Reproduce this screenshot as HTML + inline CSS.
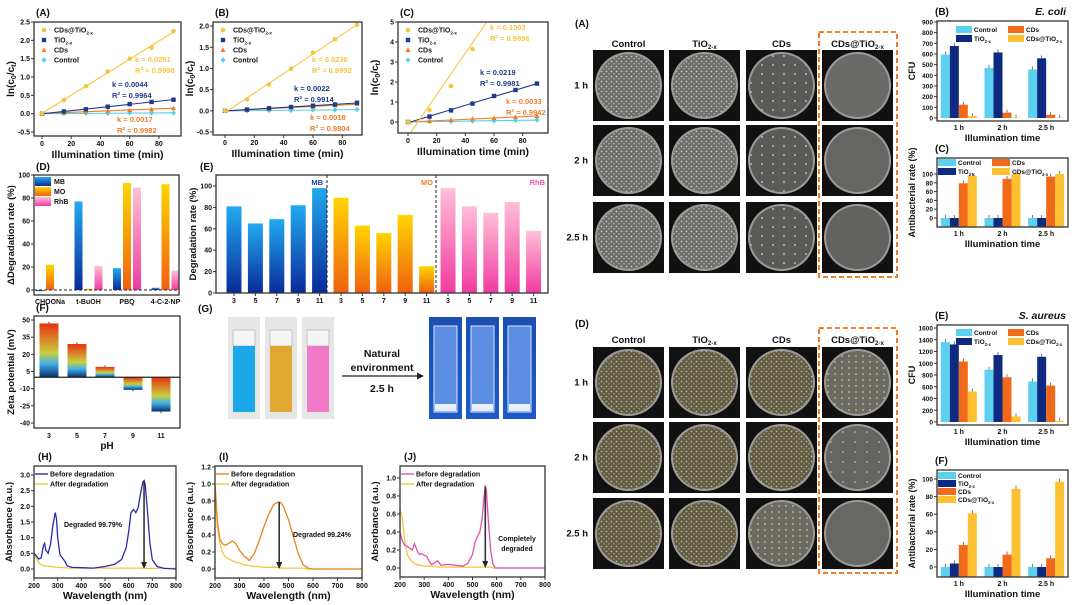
<!DOCTYPE html>
<html><head><meta charset="utf-8"><style>
html,body{margin:0;padding:0;background:#fff;}
svg{display:block;font-family:"Liberation Sans",Arial,sans-serif;}
</style></head><body>
<svg id="fig" width="1080" height="605" viewBox="0 0 1080 605" xmlns="http://www.w3.org/2000/svg">
<defs>
<linearGradient id="gMB" x1="0" y1="0" x2="0" y2="1"><stop offset="0" stop-color="#22aaf0"/><stop offset="1" stop-color="#0a2a9a"/></linearGradient>
<linearGradient id="gMO" x1="0" y1="0" x2="0" y2="1"><stop offset="0" stop-color="#ffd500"/><stop offset="1" stop-color="#f06010"/></linearGradient>
<linearGradient id="gRhB" x1="0" y1="0" x2="0" y2="1"><stop offset="0" stop-color="#ffc0d8"/><stop offset="1" stop-color="#f03aa0"/></linearGradient>
<linearGradient id="gZp" x1="0" y1="0" x2="0" y2="1"><stop offset="0" stop-color="#e83010"/><stop offset="0.55" stop-color="#c8d040"/><stop offset="0.75" stop-color="#40b0e8"/><stop offset="1" stop-color="#0a3070"/></linearGradient>
<linearGradient id="gBlueBg" x1="0" y1="0" x2="0" y2="1"><stop offset="0" stop-color="#1a4fb0"/><stop offset="1" stop-color="#1e5ac8"/></linearGradient>
<pattern id="dense" width="5" height="5" patternUnits="userSpaceOnUse"><rect width="5" height="5" fill="#6c6c68"/><circle cx="1.5" cy="1.5" r="0.9" fill="#c8c8c0"/><circle cx="4" cy="3.8" r="0.8" fill="#b8b8b0"/></pattern>
<pattern id="sparse" width="11" height="9" patternUnits="userSpaceOnUse"><rect width="11" height="9" fill="#5a5a58"/><circle cx="3" cy="2" r="0.9" fill="#d8d8d0"/></pattern>
<pattern id="denseY" width="5" height="5" patternUnits="userSpaceOnUse"><rect width="5" height="5" fill="#5e5a4c"/><circle cx="1.5" cy="1.5" r="0.9" fill="#c8b868"/><circle cx="4" cy="3.8" r="0.8" fill="#b0a060"/></pattern>
<pattern id="midY" width="7" height="6" patternUnits="userSpaceOnUse"><rect width="7" height="6" fill="#6a6a62"/><circle cx="2" cy="2" r="0.9" fill="#d8c878"/></pattern>
<pattern id="sparseY" width="12" height="10" patternUnits="userSpaceOnUse"><rect width="12" height="10" fill="#656562"/><circle cx="3" cy="2" r="0.8" fill="#d8d0a0"/></pattern>
</defs>
</svg>
<script>
// ---------- data ----------
const times = [0, 15, 30, 45, 60, 75, 90];
const kinSeriesNames = ['CDs@TiO2-x', 'TiO2-x', 'CDs', 'Control'];
const A_cdsTio2 = [0, 0.37, 0.75, 1.15, 1.5, 1.8, 2.25];
const A_tio2 = [0, 0.06, 0.12, 0.19, 0.26, 0.32, 0.38];
const A_cds = [0, 0.03, 0.06, 0.08, 0.1, 0.12, 0.15];
const A_ctrl = [0, 0.0, 0.01, 0.01, 0.02, 0.02, 0.02];
const B_cdsTio2 = [0, 0.27, 0.62, 0.99, 1.37, 1.69, 2.03];
const B_tio2 = [0, 0.03, 0.06, 0.09, 0.12, 0.15, 0.19];
const B_cds = [0, 0.02, 0.05, 0.08, 0.1, 0.13, 0.16];
const B_ctrl = [0, 0.0, 0.01, 0.01, 0.02, 0.02, 0.03];
const C_cdsTio2 = [0, 0.6, 1.8, 3.65, 5.6, 7.2, 8.9];
const C_tio2 = [0, 0.27, 0.58, 0.92, 1.3, 1.6, 1.92];
const C_cds = [0, 0.05, 0.1, 0.15, 0.2, 0.25, 0.3];
const C_ctrl = [0, 0.02, 0.03, 0.05, 0.06, 0.08, 0.1];
const D_cats = ['CHOONa', 't-BuOH', 'PBQ', '4-C-2-NP'];
const D_MB = [-1, 77, 19, 2];
const D_MO = [22, 1, 93, 92];
const D_RhB = [0, 21, 89, 17];
const E_ph = ['3', '5', '7', '9', '11'];
const E_MB = [81, 65, 69, 82, 98];
const E_MO = [89, 63, 56, 73, 25];
const E_RhB = [98, 81, 75, 85, 58];
const F_ph = ['3', '5', '7', '9', '11'];
const F_zeta = [47, 29, 9, -11, -30];
const H_wl = [200,210,220,230,240,245,250,260,270,280,290,295,300,310,320,330,340,360,400,450,500,540,570,590,600,610,620,630,640,650,660,665,670,680,690,700,720,750,800];
const H_before = [0.5,0.42,0.32,0.35,0.75,0.82,0.6,0.5,0.8,1.4,1.8,1.6,1.0,0.45,0.35,0.25,0.1,0.05,0.04,0.03,0.08,0.15,0.3,0.7,1.2,1.8,1.9,1.8,1.95,2.4,2.78,2.82,2.7,1.8,0.8,0.3,0.08,0.02,0.0];
const H_after = [0.47,0.35,0.2,0.14,0.11,0.1,0.1,0.09,0.08,0.07,0.06,0.06,0.05,0.05,0.04,0.04,0.03,0.03,0.03,0.03,0.03,0.03,0.03,0.03,0.03,0.03,0.03,0.03,0.03,0.03,0.03,0.03,0.03,0.02,0.02,0.02,0.02,0.02,0.02];
const I_wl = [200,205,210,220,230,240,255,270,285,300,320,340,360,380,400,420,440,460,470,480,500,520,540,560,580,600,800];
const I_before = [1.0,0.8,0.55,0.35,0.3,0.28,0.3,0.33,0.3,0.22,0.15,0.1,0.18,0.33,0.5,0.65,0.76,0.79,0.78,0.73,0.58,0.38,0.18,0.05,0.01,0.0,0.0];
const I_after = [0.95,0.7,0.5,0.3,0.2,0.15,0.12,0.1,0.08,0.07,0.05,0.04,0.03,0.03,0.02,0.02,0.02,0.02,0.01,0.01,0.01,0.01,0.01,0.01,0.0,0.0,0.0];
const J_wl = [200,210,220,230,240,250,260,270,280,290,300,310,320,330,340,355,370,400,430,460,480,500,510,520,530,540,548,553,558,565,575,585,595,800];
const J_before = [0.4,0.3,0.25,0.24,0.22,0.2,0.27,0.2,0.15,0.16,0.14,0.13,0.08,0.04,0.05,0.08,0.03,0.04,0.03,0.02,0.05,0.15,0.28,0.35,0.4,0.55,0.8,0.92,0.85,0.55,0.2,0.04,0.0,0.0];
const J_after = [0.65,0.55,0.3,0.15,0.1,0.07,0.05,0.04,0.03,0.03,0.02,0.02,0.02,0.02,0.02,0.01,0.01,0.01,0.01,0.01,0.01,0.01,0.01,0.01,0.01,0.01,0.01,0.01,0.01,0.01,0.01,0.0,0.0,0.0];
const times_h = ['1 h', '2 h', '2.5 h'];
const Bc_ctrl = [595, 470, 455], Bc_tio2 = [675, 615, 560], Bc_cds = [125, 50, 30], Bc_cdsT = [18, 3, 3];
const Cc_ctrl = [0, 0, 0], Cc_tio2 = [0, 0, 0], Cc_cds = [79, 89, 94], Cc_cdsT = [96, 100, 100];
const Ec_ctrl = [1360, 890, 690], Ec_tio2 = [1320, 1140, 1110], Ec_cds = [1030, 760, 620], Ec_cdsT = [520, 95, 20];
const Fc_ctrl = [0, 0, 0], Fc_tio2 = [4, 0, 0], Fc_cds = [25, 14, 10], Fc_cdsT = [61, 89, 97];

// ---------- helpers ----------
const NS = 'http://www.w3.org/2000/svg';
const svg = document.getElementById('fig');
function mk(tag, attrs, name, parent) {
  const el = document.createElementNS(NS, tag);
  for (const k in attrs) el.setAttribute(k, attrs[k]);
  
  
  (parent || svg).appendChild(el);
  return el;
}
function txt(x, y, s, opts, name, html) {
  const t = mk('text', Object.assign({x: x, y: y, 'font-size': 8, 'font-weight': 'bold', 'text-anchor': 'middle', fill: '#111'}, opts || {}), name);
  if (html) t.innerHTML = s; else t.textContent = s;
  return t;
}
const TIO = 'TiO<tspan font-size="0.65em" dy="2">2-x</tspan>';
const CDT = 'CDs@TiO<tspan font-size="0.65em" dy="2">2-x</tspan>';
function lin(d0, d1, r0, r1) { return v => r0 + (v - d0) * (r1 - r0) / (d1 - d0); }
function frame(x0, y0, x1, y1, name) { mk('rect', {x: x0, y: y0, width: x1 - x0, height: y1 - y0, fill: 'none', stroke: '#333', 'stroke-width': 1.3}, name); }
function yTicks(ys, vals, x0, name, fmt, fs) {
  vals.forEach(v => { const y = ys(v);
    mk('line', {x1: x0 - 3, x2: x0, y1: y, y2: y, stroke: '#333'}, name + '-tick');
    txt(x0 - 4, y + 2.5, fmt ? fmt(v) : String(v), {'text-anchor': 'end', 'font-size': fs || 7}, name + '-label'); });
}
function xTicks(xs, vals, yb, name, fs, labels) {
  vals.forEach((v, i) => { const x = xs(v);
    mk('line', {x1: x, x2: x, y1: yb, y2: yb + 3, stroke: '#333'}, name + '-tick');
    txt(x, yb + 10, labels ? labels[i] : String(v), {'font-size': fs || 7}, name + '-label'); });
}
function ytitle(x, y, s, name, html, fs) {
  const t = txt(x, y, s, {'font-size': fs || 9.5, transform: 'rotate(-90 ' + x + ' ' + y + ')'}, name, html); return t;
}
function fit(xv, yv) {
  const n = xv.length; let sx = 0, sy = 0, sxx = 0, sxy = 0;
  for (let i = 0; i < n; i++) { sx += xv[i]; sy += yv[i]; sxx += xv[i] * xv[i]; sxy += xv[i] * yv[i]; }
  const m = (n * sxy - sx * sy) / (n * sxx - sx * sx); return [m, (sy - m * sx) / n];
}
function marker(type, x, y, c, name, g) {
  if (type === 0) mk('circle', {cx: x, cy: y, r: 2.3, fill: c}, name, g);
  else if (type === 1) mk('rect', {x: x - 2.2, y: y - 2.2, width: 4.4, height: 4.4, fill: c}, name, g);
  else if (type === 2) mk('polygon', {points: (x) + ',' + (y - 2.6) + ' ' + (x + 2.5) + ',' + (y + 2) + ' ' + (x - 2.5) + ',' + (y + 2), fill: c}, name, g);
  else mk('polygon', {points: x + ',' + (y - 2.7) + ' ' + (x + 2.5) + ',' + y + ' ' + x + ',' + (y + 2.7) + ' ' + (x - 2.5) + ',' + y, fill: c}, name, g);
}
const kinColors = ['#f5c542', '#1e3a8a', '#f07c2a', '#4fd2e8'];

function kinPanel(p) {
  txt(p.x0 + 2, p.y0 - 6, p.label, {'font-size': 10, 'text-anchor': 'start'}, 'panel-label-' + p.id);
  const xs = lin(0, 90, p.xa, p.xb), ys = lin(p.ymin, p.ymax, p.ya, p.yb);
  const cid = 'clip' + p.id;
  const cp = mk('clipPath', {id: cid}, 'clip-' + p.id);
  mk('rect', {x: p.x0, y: p.y0, width: p.x1 - p.x0, height: p.y1 - p.y0}, 'clip-rect', cp);
  const g = mk('g', {'clip-path': 'url(#' + cid + ')'}, 'plot-area-' + p.id);
  [3, 2, 1, 0].forEach(si => {
    const data = p.series[si];
    const f = fit(times, data);
    mk('line', {x1: xs(0), y1: ys(f[1]), x2: xs(90), y2: ys(f[1] + f[0] * 90), stroke: kinColors[si], 'stroke-width': 1.1}, 'fit-line-' + si, g);
    data.forEach((v, i) => marker(si, xs(times[i]), ys(v), kinColors[si], 'point-' + si, g));
  });
  frame(p.x0, p.y0, p.x1, p.y1, 'frame-' + p.id);
  yTicks(ys, p.yt, p.x0, 'y-axis-' + p.id, p.fmt);
  xTicks(xs, [0, 20, 40, 60, 80], p.y1, 'x-axis-' + p.id);
  txt((p.x0 + p.x1) / 2, p.y1 + 22, 'Illumination time (min)', {'font-size': 10.5}, 'x-axis-title-' + p.id);
  ytitle(p.x0 - 20, (p.y0 + p.y1) / 2, 'ln(c<tspan font-size="0.7em" dy="2">0</tspan><tspan dy="-2">/c</tspan><tspan font-size="0.7em" dy="2">t</tspan><tspan dy="-2">)</tspan>', 'y-axis-title-' + p.id, true, 10);
  ['CDs@TiO2-x', 'TiO2-x', 'CDs', 'Control'].forEach((n, i) => {
    const y = p.y0 + 8 + i * 10;
    marker(i, p.x0 + 10, y, kinColors[i], 'legend-marker');
    txt(p.x0 + 20, y + 2.5, i === 0 ? CDT : i === 1 ? TIO : n, {'font-size': 7, 'text-anchor': 'start'}, 'legend-entry', true);
  });
  p.ann.forEach(a => {
    txt(a[0], a[1], 'k = ' + a[2], {'font-size': 7.5, fill: a[4], 'text-anchor': 'start'}, 'k-value');
    txt(a[0], a[1] + 11, 'R<tspan font-size="0.65em" dy="-3">2</tspan><tspan dy="3"> = ' + a[3] + '</tspan>', {'font-size': 7.5, fill: a[4], 'text-anchor': 'start'}, 'r2-value', true);
  });
}
const f1 = v => v.toFixed(1);
kinPanel({id: 'A', label: '(A)', x0: 34, y0: 22, x1: 181, y1: 136, xa: 42, xb: 173.5, ymin: -0.5, ymax: 2.5, ya: 132, yb: 22,
  yt: [-0.5, 0, 0.5, 1, 1.5, 2, 2.5], fmt: f1, series: [A_cdsTio2, A_tio2, A_cds, A_ctrl],
  ann: [[135, 62, '0.0251', '0.9998', '#f5c542'], [112, 87, '0.0044', '0.9964', '#1e3a8a'], [117, 122, '0.0017', '0.9982', '#f07c2a']]});
kinPanel({id: 'B', label: '(B)', x0: 213, y0: 22, x1: 362, y1: 135, xa: 225, xb: 357, ymin: -0.5, ymax: 2.2, ya: 132, yb: 17.6,
  yt: [-0.5, 0, 0.5, 1, 1.5, 2], fmt: f1, series: [B_cdsTio2, B_tio2, B_cds, B_ctrl],
  ann: [[312, 62, '0.0236', '0.9992', '#f5c542'], [294, 91, '0.0022', '0.9914', '#1e3a8a'], [310, 120, '0.0018', '0.9804', '#f07c2a']]});
kinPanel({id: 'C', label: '(C)', x0: 398, y0: 22, x1: 548, y1: 133, xa: 408, xb: 537, ymin: -0.55, ymax: 5, ya: 133, yb: 22,
  yt: [0, 1, 2, 3, 4, 5], fmt: v => String(v), series: [C_cdsTio2, C_tio2, C_cds, C_ctrl],
  ann: [[490, 30, '0.1003', '0.9896', '#f5c542'], [480, 75, '0.0219', '0.9981', '#1e3a8a'], [506, 104, '0.0033', '0.9942', '#f07c2a']]});

// ---------- D ----------
(function () {
  const x0 = 34, y0 = 175, x1 = 179, y1 = 295;
  txt(x0 + 2, y0 - 5, '(D)', {'font-size': 10, 'text-anchor': 'start'}, 'panel-label-D');
  const ys = lin(0, 100, 290, 175), bw = 8;
  const xc = i => x0 + 16 + i * 38.5;
  const sets = [[D_MB, 'url(#gMB)'], [D_MO, 'url(#gMO)'], [D_RhB, 'url(#gRhB)']];
  D_cats.forEach((c, i) => {
    sets.forEach((s, j) => {
      const v = s[0][i], x = xc(i) + (j - 1) * (bw + 2) - bw / 2;
      mk('rect', {x: x, y: Math.min(ys(v), ys(0)), width: bw, height: Math.abs(ys(v) - ys(0)), fill: s[1]}, 'bar-' + c);
    });
    txt(xc(i), y1 + 9, c, {'font-size': 7}, 'x-axis-label');
  });
  mk('line', {x1: x0, x2: x1, y1: ys(0), y2: ys(0), stroke: '#222', 'stroke-dasharray': '3,2'}, 'zero-line');
  frame(x0, y0, x1, y1, 'frame-D');
  yTicks(ys, [0, 20, 40, 60, 80, 100], x0, 'y-axis-D');
  ytitle(x0 - 20, (y0 + y1) / 2, 'ΔDegradation rate (%)', 'y-axis-title-D', false, 9.5);
  [['MB', 'url(#gMB)'], ['MO', 'url(#gMO)'], ['RhB', 'url(#gRhB)']].forEach((l, i) => {
    mk('rect', {x: x0 + 1, y: y0 + 2 + i * 10, width: 16, height: 9, fill: l[1]}, 'legend-swatch');
    txt(x0 + 20, y0 + 9 + i * 10, l[0], {'font-size': 7, 'text-anchor': 'start'}, 'legend-entry');
  });
})();

// ---------- E ----------
(function () {
  const x0 = 216, y0 = 175, x1 = 548, y1 = 293;
  txt(x0 - 16, y0 - 5, '(E)', {'font-size': 10, 'text-anchor': 'start'}, 'panel-label-E');
  const ys = lin(0, 100, 293, 186), bw = 15;
  const xc = i => 234 + i * 21.4;
  const sets = [[E_MB, 'url(#gMB)'], [E_MO, 'url(#gMO)'], [E_RhB, 'url(#gRhB)']];
  sets.forEach((s, j) => s[0].forEach((v, k) => {
    const i = j * 5 + k;
    mk('rect', {x: xc(i) - bw / 2, y: ys(v), width: bw, height: ys(0) - ys(v), fill: s[1]}, 'bar-ph' + E_ph[k]);
    mk('line', {x1: xc(i), x2: xc(i), y1: y1, y2: y1 + 3, stroke: '#333'}, 'x-tick');
    txt(xc(i), y1 + 10, E_ph[k], {'font-size': 7}, 'x-axis-label');
  }));
  [327, 436].forEach(x => mk('line', {x1: x, x2: x, y1: y0, y2: y1, stroke: '#222', 'stroke-dasharray': '3,2'}, 'divider-line'));
  txt(323, y0 + 10, 'MB', {'font-size': 7.5, fill: '#1e3aa0', 'text-anchor': 'end'}, 'group-label-MB');
  txt(433, y0 + 10, 'MO', {'font-size': 7.5, fill: '#f07c2a', 'text-anchor': 'end'}, 'group-label-MO');
  txt(545, y0 + 10, 'RhB', {'font-size': 7.5, fill: '#f050b0', 'text-anchor': 'end'}, 'group-label-RhB');
  frame(x0, y0, x1, y1, 'frame-E');
  yTicks(ys, [0, 20, 40, 60, 80, 100], x0, 'y-axis-E');
  ytitle(x0 - 20, (y0 + y1) / 2, 'Degradation rate (%)', 'y-axis-title-E', false, 9.5);
})();

// ---------- F ----------
(function () {
  const x0 = 34, y0 = 316, x1 = 180, y1 = 428;
  txt(x0 + 2, y0 - 5, '(F)', {'font-size': 10, 'text-anchor': 'start'}, 'panel-label-F');
  const ys = lin(-40, 50, 423, 320), bw = 19;
  const xc = i => 49 + i * 28;
  F_zeta.forEach((v, i) => {
    mk('rect', {x: xc(i) - bw / 2, y: Math.min(ys(v), ys(0)), width: bw, height: Math.abs(ys(v) - ys(0)), fill: 'url(#gZp)'}, 'bar-ph' + F_ph[i]);
    mk('line', {x1: xc(i), x2: xc(i), y1: ys(v) + (v > 0 ? -1.5 : 1.5), y2: ys(v), stroke: '#333'}, 'error-bar');
    txt(xc(i), y1 + 10, F_ph[i], {'font-size': 7}, 'x-axis-label');
  });
  mk('line', {x1: x0, x2: x1, y1: ys(0), y2: ys(0), stroke: '#222', 'stroke-width': 1.2}, 'zero-line');
  frame(x0, y0, x1, y1, 'frame-F');
  yTicks(ys, [-40, -25, -10, 5, 20, 35, 50], x0, 'y-axis-F');
  txt((x0 + x1) / 2, y1 + 21, 'pH', {'font-size': 10}, 'x-axis-title-F');
  ytitle(x0 - 20, (y0 + y1) / 2, 'Zeta potential (mV)', 'y-axis-title-F', false, 9.5);
})();

// ---------- G ----------
(function () {
  txt(198, 312, '(G)', {'font-size': 10, 'text-anchor': 'start'}, 'panel-label-G');
  [[228, '#1aa8e8'], [265, '#e0a830'], [302, '#f07ac8']].forEach((c, i) => {
    const x = c[0], w = 32;
    mk('rect', {x: x, y: 317, width: w, height: 102, fill: '#e6e6e4'}, 'dye-photo');
    mk('rect', {x: x + 5, y: 330, width: w - 10, height: 16, fill: '#f4f4f4', stroke: '#aaa', 'stroke-width': 0.6}, 'cuvette-top');
    mk('rect', {x: x + 5, y: 346, width: w - 10, height: 66, fill: c[1]}, 'cuvette-liquid');
  });
  mk('line', {x1: 342, y1: 376, x2: 420, y2: 376, stroke: '#222', 'stroke-width': 1.2}, 'arrow-line');
  mk('polygon', {points: '424,376 417,372.5 417,379.5', fill: '#222'}, 'arrow-head');
  txt(382, 357, 'Natural', {'font-size': 10.5}, 'arrow-label');
  txt(382, 371, 'environment', {'font-size': 10.5}, 'arrow-label');
  txt(382, 392, '2.5 h', {'font-size': 10.5}, 'arrow-label');
  [429, 466, 503].forEach(x => {
    mk('rect', {x: x, y: 317, width: 33, height: 102, fill: 'url(#gBlueBg)'}, 'clear-photo');
    mk('rect', {x: x + 5, y: 326, width: 23, height: 86, fill: '#5b8ee0', stroke: '#dbe6ff', 'stroke-width': 1}, 'clear-cuvette');
    mk('rect', {x: x + 6, y: 404, width: 21, height: 7, fill: '#e8eeff'}, 'cuvette-base');
  });
})();

// ---------- H, I, J ----------
function specPanel(p) {
  txt(p.x0 + 4, p.y0 - 6, p.label, {'font-size': 10, 'text-anchor': 'start'}, 'panel-label-' + p.id);
  const xs = lin(200, 800, p.x0, p.x1), ys = lin(0, p.ymax, p.y0r, p.yt1);
  const path = (wl, a) => wl.map((w, i) => (i ? 'L' : 'M') + xs(w).toFixed(1) + ',' + ys(a[i]).toFixed(1)).join(' ');
  mk('path', {d: path(p.wl, p.after), fill: 'none', stroke: '#f5c542', 'stroke-width': 1.3}, 'after-line-' + p.id);
  mk('path', {d: path(p.wl, p.before), fill: 'none', stroke: p.c, 'stroke-width': 1.3}, 'before-line-' + p.id);
  const ax = xs(p.arrowWl);
  mk('line', {x1: ax, x2: ax, y1: ys(p.arrowTop), y2: ys(0) - 6, stroke: '#333', 'stroke-width': 1.6}, 'arrow-line');
  mk('polygon', {points: ax + ',' + ys(0) + ' ' + (ax - 3) + ',' + (ys(0) - 7) + ' ' + (ax + 3) + ',' + (ys(0) - 7), fill: '#222'}, 'arrow-head');
  frame(p.x0, p.y0, p.x1, p.y1, 'frame-' + p.id);
  yTicks(ys, p.ticks, p.x0, 'y-axis-' + p.id, p.fmt);
  xTicks(xs, [200, 300, 400, 500, 600, 700, 800], p.y1, 'x-axis-' + p.id);
  txt((p.x0 + p.x1) / 2, p.y1 + 21, 'Wavelength (nm)', {'font-size': 10.5}, 'x-axis-title-' + p.id);
  ytitle(p.x0 - 22, (p.y0 + p.y1) / 2, 'Absorbance (a.u.)', 'y-axis-title-' + p.id, false, 9.5);
  [['Before degradation', p.c], ['After degradation', '#f5c542']].forEach((l, i) => {
    const y = p.y0 + 8 + i * 10;
    mk('line', {x1: p.x0 + 1, x2: p.x0 + 14, y1: y, y2: y, stroke: l[1], 'stroke-width': 1.4}, 'legend-line');
    txt(p.x0 + 16, y + 2.5, l[0], {'font-size': 7, 'text-anchor': 'start'}, 'legend-entry');
  });
  p.notes.forEach(n => txt(n[0], n[1], n[2], {'font-size': 7, 'text-anchor': n[3] || 'start'}, 'annotation'));
}
specPanel({id: 'H', label: '(H)', x0: 34, y0: 466, x1: 176, y1: 578, y0r: 569, yt1: 475, ymax: 3.0, ticks: [0, 0.5, 1, 1.5, 2, 2.5, 3], fmt: f1,
  wl: H_wl, before: H_before, after: H_after, c: '#2a2ab0', arrowWl: 665, arrowTop: 2.82, notes: [[64, 527, 'Degraded 99.79%']]});
specPanel({id: 'I', label: '(I)', x0: 215, y0: 466, x1: 362, y1: 578, y0r: 569, yt1: 467, ymax: 1.2, ticks: [0, 0.2, 0.4, 0.6, 0.8, 1.0, 1.2], fmt: f1,
  wl: I_wl, before: I_before, after: I_after, c: '#e8861a', arrowWl: 462, arrowTop: 0.79, notes: [[293, 537, 'Degraded 99.24%']]});
specPanel({id: 'J', label: '(J)', x0: 400, y0: 466, x1: 545, y1: 577, y0r: 568, yt1: 478, ymax: 1.0, ticks: [0, 0.2, 0.4, 0.6, 0.8, 1.0], fmt: f1,
  wl: J_wl, before: J_before, after: J_after, c: '#e050b0', arrowWl: 553, arrowTop: 0.9, notes: [[517, 541, 'Completely', 'middle'], [517, 551, 'degraded', 'middle']]});

// ---------- Plates ----------
const plateCols = ['Control', 'TiO2-x', 'CDs', 'CDs@TiO2-x'];
const plateRows = ['1 h', '2 h', '2.5 h'];
function plates(p) {
  txt(575, p.labelY, p.label, {'font-size': 10, 'text-anchor': 'start'}, 'panel-label-' + p.id);
  const cx = [593, 669, 746, 822], w = 71, h = 71;
  plateCols.forEach((c, i) => txt(cx[i] + w / 2, p.headY, i === 1 ? TIO : i === 3 ? CDT : c, {'font-size': 9.5}, 'column-header', true));
  p.rows.forEach((ry, r) => {
    txt(588, ry + h / 2 + 3, plateRows[r], {'font-size': 9.5, 'text-anchor': 'end'}, 'row-label');
    cx.forEach((x, i) => {
      mk('rect', {x: x, y: ry, width: w, height: h, fill: '#111'}, 'plate-photo');
      mk('circle', {cx: x + w / 2, cy: ry + h / 2, r: 33.5, fill: '#9a9a96'}, 'plate-rim');
      mk('circle', {cx: x + w / 2, cy: ry + h / 2, r: 31.5, fill: p.fills[r][i]}, 'plate-agar');
    });
  });
  mk('rect', {x: 819, y: p.boxY0, width: 78, height: p.boxY1 - p.boxY0, fill: 'none', stroke: '#f07c2a', 'stroke-width': 2, 'stroke-dasharray': '5,3'}, 'highlight-box');
}
plates({id: 'A2', label: '(A)', labelY: 27, headY: 47, rows: [50, 125, 202], boxY0: 32, boxY1: 277,
  fills: [['url(#dense)', 'url(#dense)', 'url(#sparse)', '#6a6a68'], ['url(#dense)', 'url(#dense)', 'url(#sparse)', '#656563'], ['url(#dense)', 'url(#dense)', 'url(#sparse)', '#626260']]});
plates({id: 'D2', label: '(D)', labelY: 327, headY: 343, rows: [347, 422, 498], boxY0: 328, boxY1: 573,
  fills: [['url(#denseY)', 'url(#denseY)', 'url(#denseY)', 'url(#midY)'], ['url(#denseY)', 'url(#denseY)', 'url(#denseY)', 'url(#sparseY)'], ['url(#denseY)', 'url(#denseY)', 'url(#midY)', '#676764']]});

// ---------- right bar charts ----------
const barColors = ['#5dd0f0', '#0d2a80', '#f06a1a', '#fdc030'];
function barPanel(p) {
  const x0 = 937, x1 = 1068;
  txt(x0 - 2, p.y0 - 6, p.label, {'font-size': 10, 'text-anchor': 'start'}, 'panel-label-' + p.id);
  if (p.org) txt(1066, p.y0 - 6, p.org, {'font-size': 10.5, 'font-style': 'italic', 'text-anchor': 'end'}, 'organism-label');
  const ys = lin(0, p.ymax, p.yz, p.ytop), gw = (x1 - x0) / 3, bw = 9;
  const base = p.baseBottom ? p.y1 : ys(0);
  p.series.forEach((s, j) => s.forEach((v, i) => {
    const x = x0 + gw * (i + 0.5) + (j - 2) * bw;
    const y = ys(Math.max(v, 0));
    mk('rect', {x: x, y: Math.min(y, base), width: bw, height: Math.abs(base - y), fill: barColors[j]}, 'bar-' + times_h[i].replace(/[ .]/g, ''));
    mk('line', {x1: x + bw / 2, x2: x + bw / 2, y1: y, y2: y - 3, stroke: '#555', 'stroke-width': 0.8}, 'error-bar');
  }));
  frame(x0, p.y0, x1, p.y1, 'frame-' + p.id);
  yTicks(ys, p.ticks, x0, 'y-axis-' + p.id, null, 6.5);
  times_h.forEach((t, i) => txt(x0 + gw * (i + 0.5), p.y1 + 9, t, {'font-size': 7}, 'x-axis-label'));
  txt((x0 + x1) / 2, p.y1 + 20, 'Illumination time', {'font-size': 9.5}, 'x-axis-title-' + p.id);
  ytitle(x0 - 22, (p.y0 + p.y1) / 2, p.ytitle, 'y-axis-title-' + p.id, false, 9);
  const names = ['Control', TIO, 'CDs', CDT];
  p.leg.forEach((L, k) => {
    mk('rect', {x: L[0], y: L[1] - 6, width: L[2], height: 7, fill: barColors[k]}, 'legend-swatch');
    txt(L[0] + L[2] + 2, L[1], names[k], {'font-size': 6.5, 'text-anchor': 'start'}, 'legend-entry', true);
  });
}
barPanel({id: 'Bb', label: '(B)', org: 'E. coli', y0: 21, y1: 121, yz: 118, ytop: 22, ymax: 900, ticks: [0, 100, 200, 300, 400, 500, 600, 700, 800, 900],
  ytitle: 'CFU', series: [Bc_ctrl, Bc_tio2, Bc_cds, Bc_cdsT], leg: [[956, 32, 16], [956, 41, 16], [1008, 32, 16], [1008, 41, 16]]});
barPanel({id: 'Cb', label: '(C)', y0: 158, y1: 227, yz: 218, ytop: 174, ymax: 100, ticks: [0, 20, 40, 60, 80, 100], baseBottom: true,
  ytitle: 'Antibacterial rate (%)', series: [Cc_ctrl, Cc_tio2, Cc_cds, Cc_cdsT], leg: [[938, 165, 18], [938, 174, 18], [992, 165, 18], [992, 174, 18]]});
barPanel({id: 'Eb', label: '(E)', org: 'S. aureus', y0: 325, y1: 425, yz: 422, ytop: 328, ymax: 1600, ticks: [0, 200, 400, 600, 800, 1000, 1200, 1400, 1600],
  ytitle: 'CFU', series: [Ec_ctrl, Ec_tio2, Ec_cds, Ec_cdsT], leg: [[956, 335, 16], [956, 344, 16], [1008, 335, 16], [1008, 344, 16]]});
barPanel({id: 'Fb', label: '(F)', y0: 470, y1: 577, yz: 567, ytop: 479, ymax: 100, ticks: [0, 20, 40, 60, 80, 100], baseBottom: true,
  ytitle: 'Antibacterial rate (%)', series: [Fc_ctrl, Fc_tio2, Fc_cds, Fc_cdsT], leg: [[938, 478, 18], [938, 486, 18], [938, 494, 18], [938, 502, 18]]});
</script>
</body></html>
